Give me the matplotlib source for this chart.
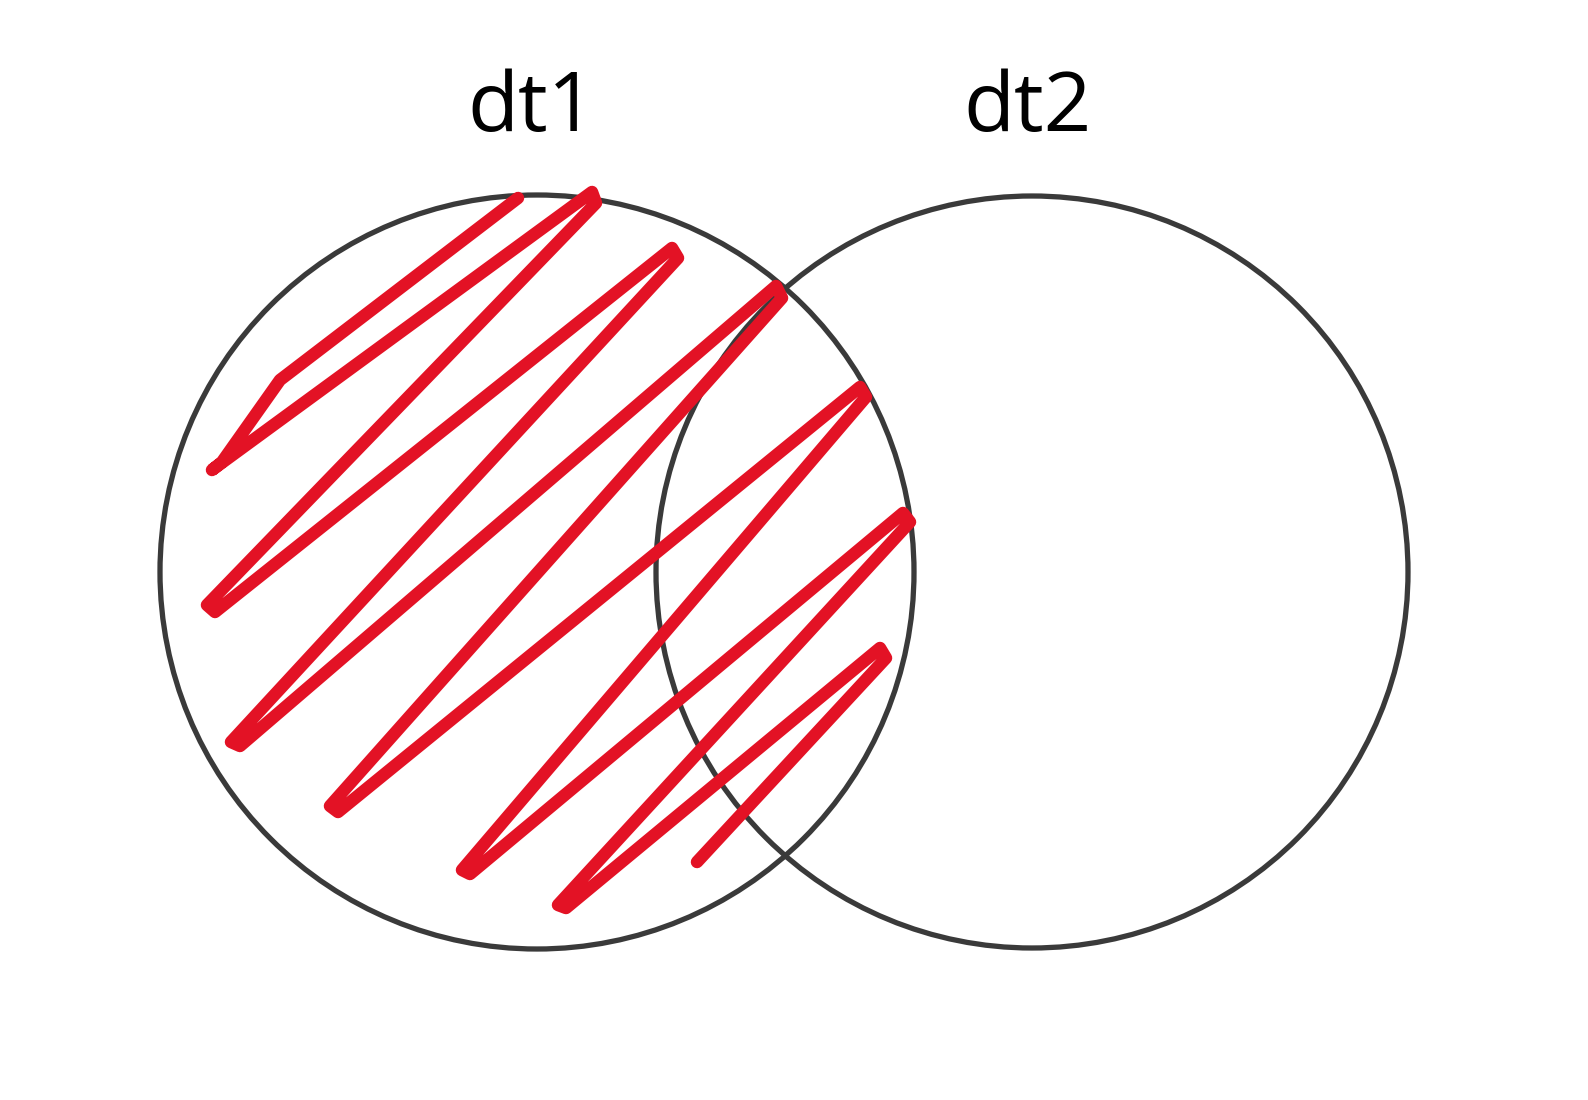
import matplotlib.pyplot as plt
from matplotlib.patches import Circle

# circles: label, centre x, centre y, radius (pixel space)
labels = ["dt1", "dt2"]
cx = [537, 1032]
cy = [572, 572]
radii = [377, 376]
label_y = 110

# hand-drawn scribble turning points
scribble_x = [518, 280, 222, 212, 592, 596, 207, 215, 672, 678, 231, 240,
              776, 782, 330, 338, 860, 866, 462, 470, 903, 910, 558, 566, 880, 886, 697]
scribble_y = [198, 380, 462, 470, 192, 203, 605, 612, 248, 258, 742, 746,
              286, 298, 806, 812, 387, 397, 870, 874, 513, 522, 905, 908, 648, 658, 862]

fig = plt.figure(figsize=(15.88, 11), dpi=100)
ax = fig.add_axes([0, 0, 1, 1])
ax.set_xlim(0, 1588)
ax.set_ylim(1100, 0)
ax.axis('off')

for lab, x, y, r in zip(labels, cx, cy, radii):
    ax.add_patch(Circle((x, y), r, fill=False, edgecolor='#3a3a3a', linewidth=3.8))
    ax.text(x - 5, label_y, lab, fontsize=60, ha='center', va='center',
            family=['Open Sans', 'DejaVu Sans'], color='black')

ax.plot(scribble_x, scribble_y, color='#e31225', linewidth=9,
        solid_joinstyle='round', solid_capstyle='round')

fig.savefig('out.png', dpi=100, facecolor='white')
